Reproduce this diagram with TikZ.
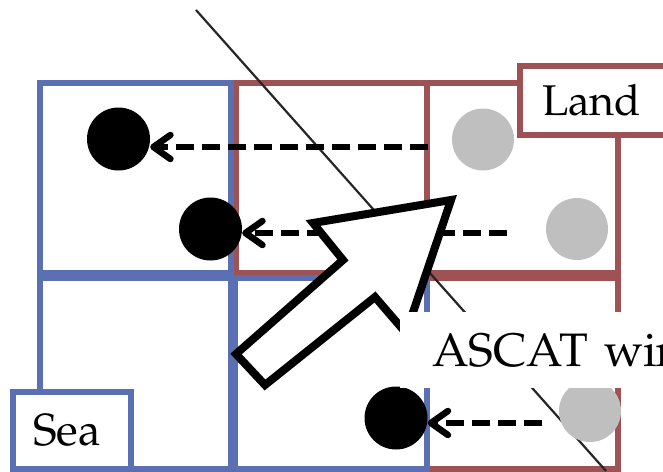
\documentclass[tikz,border=0pt]{standalone}
\usepackage[T1]{fontenc}
\usepackage{mathpazo}
\usetikzlibrary{arrows.meta}
\definecolor{seablue}{HTML}{5B70B2}
\definecolor{landred}{HTML}{9F5254}
\definecolor{dotgray}{HTML}{BFBFBF}
\begin{document}
\begin{tikzpicture}[x=1pt,y=-1pt,
  cellsea/.style={draw=seablue,line width=6pt},
  cellland/.style={draw=landred,line width=6pt},
  blackdot/.style={circle,fill=black,inner sep=0pt,minimum size=63pt},
  graydot/.style={circle,fill=dotgray,inner sep=0pt,minimum size=62pt},
  dasharrow/.style={line width=6.5pt,dash pattern=on 18pt off 8pt,-{Straight Barb[length=17pt,width=24pt,round]}},
  labelbox/.style={fill=white,line width=5.5pt,outer sep=0pt,inner ysep=0pt,anchor=west,align=left}
]
\path[use as bounding box,clip] (0,0) rectangle (663,471);
% grid cells
\draw[cellland] (236,83) rectangle (427,273);
\draw[cellland] (427,83) rectangle (618,273);
\draw[cellland] (427,278) rectangle (618,469);
\draw[cellsea] (40,83) rectangle (231,273);
\draw[cellsea] (40,278) rectangle (231,469);
\draw[cellsea] (235,278) rectangle (427,469);
% labels
\node[labelbox,draw=landred,text width=120pt,inner xsep=22pt,minimum height=69pt,font=\fontsize{43}{50}\selectfont] (land) at (520,100.5) {Land};
\node[labelbox,draw=seablue,text width=78pt,inner xsep=20pt,minimum height=77pt,font=\fontsize{45}{52}\selectfont] (sea) at (13,430.5) {Sea};
% coastline
\coordinate (c1) at (196,10);
\coordinate (c2) at (606,471);
\draw[line width=2.2pt,black!85] (c1) -- (c2);
% dots
\node[blackdot] (b1) at (118.5,139) {};
\node[blackdot] (b2) at (210.5,229) {};
\node[blackdot] (b3) at (396,418) {};
\node[graydot] (g1) at (483,139.5) {};
\node[graydot] (g2) at (577,229) {};
\node[graydot] (g3) at (590,411) {};
% dashed arrows
\coordinate (s1) at (428,147);
\coordinate (s2) at (507,233);
\coordinate (s3) at (542,423);
\draw[dasharrow] (s1) -- (b1.east |- s1);
\draw[dasharrow] (s2) -- (b2.east |- s2);
\draw[dasharrow] (s3) -- (b3.east |- s3);
% big wind arrow
\draw[line width=8pt,fill=white,line join=miter] (451,200) -- (313,223) -- (343,260) -- (236,354) -- (265,385) -- (375,297) -- (406,333) -- cycle;
% ASCAT label
\node[labelbox,text width=320pt,inner xsep=32pt,minimum height=76pt,font=\fontsize{47}{54}\selectfont] (ascat) at (400,350) {ASCAT wind};
\end{tikzpicture}
\end{document}
